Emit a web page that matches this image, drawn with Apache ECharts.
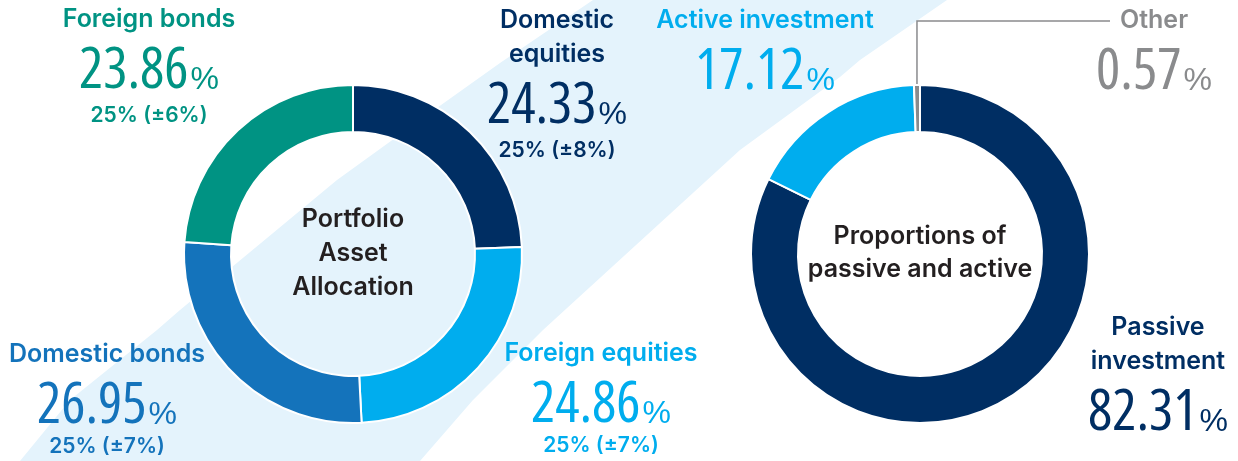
<!DOCTYPE html>
<html>
<head>
<meta charset="utf-8">
<script src="https://cdn.jsdelivr.net/npm/echarts@6/dist/echarts.min.js"></script>
<style>
  html, body { margin: 0; padding: 0; background: #fff; }
  #chart { width: 1238px; height: 461px; }
</style>
</head>
<body>
<div id="chart"></div>
<script>
// portfolio asset allocation (actual % and target band)
const allocNames = ['Domestic equities', 'Foreign equities', 'Domestic bonds', 'Foreign bonds'];
const allocValues = [24.33, 24.86, 26.95, 23.86];
const allocTargets = ['25% (±8%)', '25% (±7%)', '25% (±7%)', '25% (±6%)'];

// passive / active split
const styleNames = ['Passive investment', 'Active investment', 'Other'];
const styleValues = [82.31, 17.12, 0.57];

const allocColors = ['#002e63', '#00adee', '#1473bb', '#009383'];
const styleColors = ['#002e63', '#00adee', '#8a8b8d'];

// where each label sits (px), by data index
const allocLayout = [
  { x: 557, y: 3, wrap: true },
  { x: 601, y: 336, low: true },
  { x: 107, y: 337, low: true },
  { x: 149, y: 2 }
];
const styleLayout = [
  { x: 1158, y: 310, wrap: true },
  { x: 765, y: 3 },
  { x: 1154, y: 3, leader: true }
];

const textFont = 'Inter, "Liberation Sans", Arial, sans-serif';
const numFont = '"Open Sans", Roboto, sans-serif';

const rich = {
  name: { fontFamily: textFont, fontWeight: 600, fontSize: 25, lineHeight: 34 },
  // 'condensed' goes into the canvas font string as font-stretch
  val: { fontFamily: numFont, fontWeight: 'condensed', fontSize: 57, lineHeight: 62, padding: [10, 0, 0, 0] },
  pct: { fontFamily: '"Liberation Sans", Arial, sans-serif', fontSize: 32, lineHeight: 62, padding: [27, 0, 0, 2] },
  sub: { fontFamily: textFont, fontWeight: 600, fontSize: 21, lineHeight: 35 },
  subLow: { fontFamily: textFont, fontWeight: 600, fontSize: 21, lineHeight: 28 }
};

function makeLabel(p, layout, targets) {
  const lay = layout[p.dataIndex];
  let name = lay.wrap ? p.name.replace(' ', '\n') : p.name;
  let s = '{name|' + name + '}\n{val|' + p.value.toFixed(2) + '}{pct|%}';
  if (targets) s += '\n{' + (lay.low ? 'subLow' : 'sub') + '|' + targets[p.dataIndex] + '}';
  return s;
}

const chart = echarts.init(document.getElementById('chart'), null, { renderer: 'canvas' });

const option = {
  backgroundColor: '#fff',
  animation: false,
  graphic: [
    {
      // light diagonal band behind the left ring
      type: 'polygon',
      z: -10,
      silent: true,
      shape: {
        points: [
          [-5, 480], [20, 461], [70, 400], [157, 330], [180, 310], [261, 243], [337, 180],
          [420, 120], [500, 63], [593, 0], [610, -10],
          [960, -10], [947, 0], [860, 60], [840, 77], [740, 150], [543, 330], [480, 393],
          [473, 400], [420, 461], [405, 480]
        ]
      },
      style: { fill: '#e4f3fc' }
    },
    {
      type: 'text',
      x: 353, y: 253, z: 10,
      style: {
        text: 'Portfolio\nAsset\nAllocation',
        align: 'center', verticalAlign: 'middle',
        fontFamily: textFont, fontWeight: 600, fontSize: 25, lineHeight: 34,
        fill: '#231f20'
      }
    },
    {
      type: 'text',
      x: 920, y: 253, z: 10,
      style: {
        text: 'Proportions of\npassive and active',
        align: 'center', verticalAlign: 'middle',
        fontFamily: textFont, fontWeight: 600, fontSize: 25, lineHeight: 33,
        fill: '#231f20'
      }
    }
  ],
  series: [
    {
      type: 'pie',
      center: [353, 254],
      radius: [122, 169],
      startAngle: 90,
      clockwise: true,
      avoidLabelOverlap: false,
      itemStyle: { borderColor: '#fff', borderWidth: 2 },
      label: {
        show: true,
        position: 'outside',
        formatter: (p) => makeLabel(p, allocLayout, allocTargets),
        rich: rich
      },
      labelLine: { show: false },
      labelLayout: (p) => {
        const lay = allocLayout[p.dataIndex];
        return { x: lay.x, y: lay.y, align: 'center', verticalAlign: 'top' };
      },
      emphasis: { disabled: true },
      data: allocNames.map((n, i) => ({
        name: n,
        value: allocValues[i],
        itemStyle: { color: allocColors[i] },
        label: { color: allocColors[i] }
      }))
    },
    {
      type: 'pie',
      center: [920, 254],
      radius: [122, 169],
      startAngle: 90,
      clockwise: true,
      avoidLabelOverlap: false,
      itemStyle: { borderColor: '#fff', borderWidth: 2 },
      label: {
        show: true,
        position: 'outside',
        formatter: (p) => makeLabel(p, styleLayout, null),
        rich: rich
      },
      labelLine: { show: false },
      labelLayout: (p) => {
        const lay = styleLayout[p.dataIndex];
        const res = { x: lay.x, y: lay.y, align: 'center', verticalAlign: 'top' };
        if (lay.leader && p.labelLinePoints) {
          const p0 = p.labelLinePoints[0];
          res.labelLinePoints = [[p0[0], p0[1]], [p0[0], 21], [1110, 21]];
        }
        return res;
      },
      emphasis: { disabled: true },
      data: styleNames.map((n, i) => ({
        name: n,
        value: styleValues[i],
        itemStyle: { color: styleColors[i] },
        label: { color: styleColors[i] },
        labelLine: styleLayout[i].leader
          ? { show: true, length: 20, length2: 20, lineStyle: { color: '#8a8b8d', width: 1.5 } }
          : { show: false }
      }))
    }
  ]
};

chart.setOption(option);
window.addEventListener('resize', function () {
  chart.resize();
});
</script>
</body>
</html>
